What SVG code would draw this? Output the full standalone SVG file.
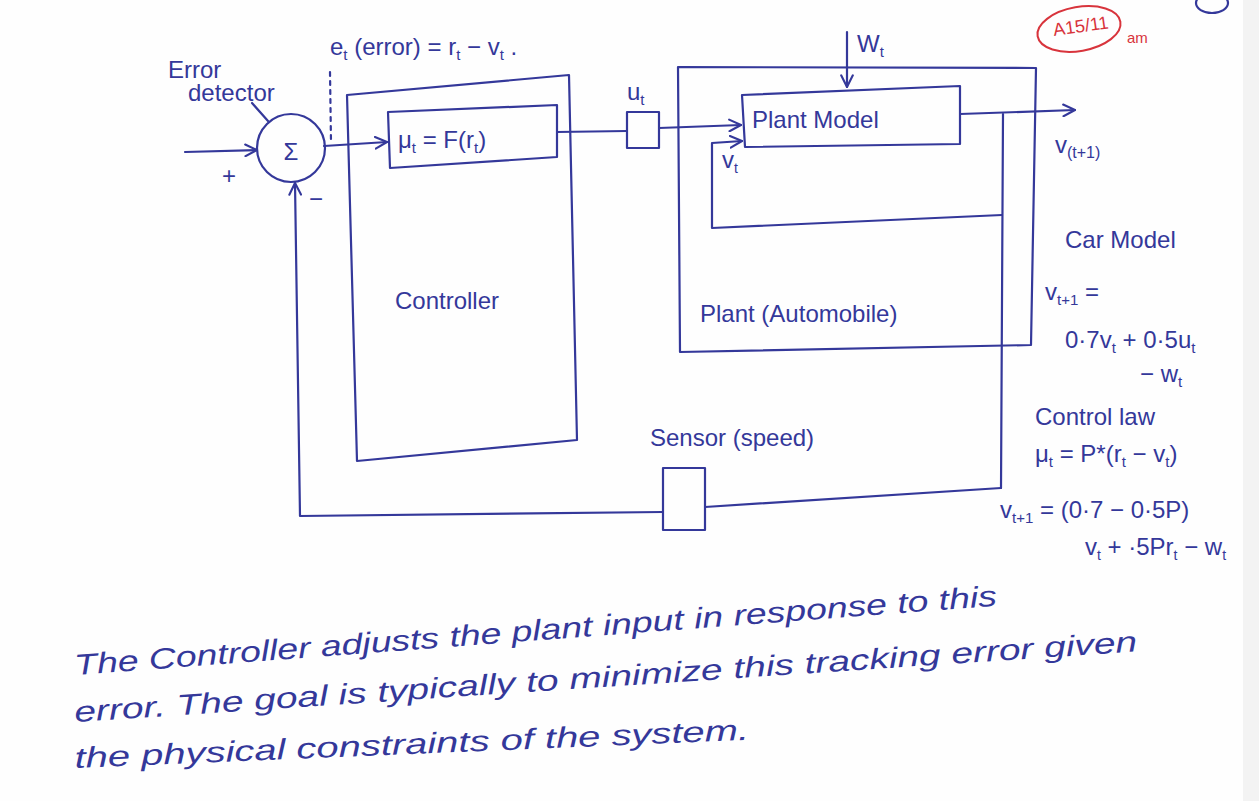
<svg xmlns="http://www.w3.org/2000/svg" width="1259" height="801" viewBox="0 0 1259 801">
<style>
.ink{stroke:#34389a;fill:none;stroke-width:2.2;stroke-linecap:round;stroke-linejoin:round}
.t{font-family:"Liberation Sans",Arial,sans-serif;fill:#34389a;font-size:24px}
.h{font-family:"Liberation Sans",Arial,sans-serif;font-style:italic;fill:#34389a;font-size:29px}
.red{stroke:#d8343c;fill:none;stroke-width:2}
.rt{font-family:"Liberation Sans",Arial,sans-serif;fill:#d8343c}
</style>
<defs>
<marker id="ah" viewBox="0 0 12 12" refX="11" refY="6" markerWidth="14" markerHeight="14" markerUnits="userSpaceOnUse" orient="auto">
<path d="M1,1 L11,6 L1,11" fill="none" stroke="#34389a" stroke-width="1.8" stroke-linecap="round" stroke-linejoin="round"/>
</marker>
</defs>
<rect width="1259" height="801" fill="#fefefe"/>
<rect x="1243" y="0" width="16" height="801" fill="#f3f3f3"/>

<g id="stamp">
<ellipse cx="1079" cy="29" rx="42" ry="22" transform="rotate(-10 1079 29)" class="red"/>
<text class="rt" x="1054" y="36" font-size="18" transform="rotate(-8 1054 36)">A15/11</text>
<text class="rt" x="1127" y="43" font-size="15">am</text>
<ellipse cx="1212" cy="3" rx="16" ry="10" class="ink"/>
</g>

<g id="connectors">
<path class="ink" d="M185,152 L257,150" marker-end="url(#ah)"/>
<path class="ink" d="M324,146 L387,142" marker-end="url(#ah)"/>
<path class="ink" d="M557,132 L627,131"/>
<path class="ink" d="M659,128 L741,125" marker-end="url(#ah)"/>
<path class="ink" d="M847,32 L847,87" marker-end="url(#ah)"/>
<path class="ink" d="M960,114 L1075,110" marker-end="url(#ah)"/>
<path class="ink" d="M1003,114 L1001,488"/>
<path class="ink" d="M1002,215 L712,228 L712,143 L742,141" marker-end="url(#ah)"/>
<path class="ink" d="M1001,488 L705,507"/>
<path class="ink" d="M663,512 L300,516 L295,183" marker-end="url(#ah)"/>
<path class="ink" d="M330,72 L331,142" stroke-dasharray="4 5"/>
<path class="ink" d="M252,103 L268,121"/>
</g>

<g id="error-labels">
<text class="t" x="168" y="78" font-size="27">Error</text>
<text class="t" x="188" y="101" font-size="23">detector</text>
<text class="t" x="330" y="55" font-size="23">e<tspan dy="5" font-size="15">t</tspan><tspan dy="-5"> (error) = r</tspan><tspan dy="5" font-size="15">t</tspan><tspan dy="-5"> − v</tspan><tspan dy="5" font-size="15">t</tspan><tspan dy="-5"> .</tspan></text>
<text class="t" x="222" y="184" font-size="28">+</text>
<text class="t" x="309" y="207" font-size="28">−</text>
</g>

<g id="sum">
<circle cx="291" cy="148" r="34" class="ink"/>
<text class="t" x="291" y="160" font-size="34" text-anchor="middle">Σ</text>
</g>

<g id="controller">
<path class="ink" d="M347,95 L569,75 L577,440 L357,461 Z"/>
<text class="t" x="395" y="309" font-size="26">Controller</text>
</g>

<g id="control-function">
<path class="ink" d="M388,112 L557,105 L557,157 L390,168 Z"/>
<text class="t" x="398" y="148">μ<tspan dy="5" font-size="15">t</tspan><tspan dy="-5"> = F(r</tspan><tspan dy="5" font-size="15">t</tspan><tspan dy="-5">)</tspan></text>
</g>

<g id="actuator">
<path class="ink" d="M627,112 L659,112 L659,148 L627,148 Z"/>
<text class="t" x="627" y="100">u<tspan dy="5" font-size="15">t</tspan></text>
</g>

<g id="plant">
<path class="ink" d="M678,67 L1036,68 L1031,345 L680,352 Z"/>
<text class="t" x="700" y="322" font-size="26">Plant (Automobile)</text>
</g>

<g id="plant-model">
<path class="ink" d="M742,95 L960,86 L960,144 L745,147 Z"/>
<text class="t" x="752" y="128" font-size="25">Plant Model</text>
<text class="t" x="857" y="52">W<tspan dy="5" font-size="15">t</tspan></text>
<text class="t" x="722" y="168" font-size="21">v<tspan dy="5" font-size="14">t</tspan></text>
</g>

<g id="output-label">
<text class="t" x="1055" y="153">v<tspan dy="5" font-size="16">(t+1)</tspan></text>
</g>

<g id="sensor">
<path class="ink" d="M663,468 L705,468 L705,530 L663,530 Z"/>
<text class="t" x="650" y="446" font-size="25">Sensor (speed)</text>
</g>

<g id="equations">
<text class="t" x="1065" y="248">Car Model</text>
<text class="t" x="1045" y="300">v<tspan dy="5" font-size="15">t+1</tspan><tspan dy="-5"> =</tspan></text>
<text class="t" x="1065" y="348">0·7v<tspan dy="5" font-size="15">t</tspan><tspan dy="-5"> + 0·5u</tspan><tspan dy="5" font-size="15">t</tspan></text>
<text class="t" x="1140" y="382">− w<tspan dy="5" font-size="15">t</tspan></text>
<text class="t" x="1035" y="425">Control law</text>
<text class="t" x="1035" y="462">μ<tspan dy="5" font-size="15">t</tspan><tspan dy="-5"> = P*(r</tspan><tspan dy="5" font-size="15">t</tspan><tspan dy="-5"> − v</tspan><tspan dy="5" font-size="15">t</tspan><tspan dy="-5">)</tspan></text>
<text class="t" x="1000" y="518">v<tspan dy="5" font-size="15">t+1</tspan><tspan dy="-5"> = (0·7 − 0·5P)</tspan></text>
<text class="t" x="1085" y="555" font-size="22">v<tspan dy="5" font-size="14">t</tspan><tspan dy="-5"> + ·5Pr</tspan><tspan dy="5" font-size="14">t</tspan><tspan dy="-5"> − w</tspan><tspan dy="5" font-size="14">t</tspan></text>
</g>

<g id="notes">
<text class="h" x="75" y="675" transform="rotate(-4.3 75 675)" textLength="925" lengthAdjust="spacingAndGlyphs">The Controller adjusts the plant input in response to this</text>
<text class="h" x="75" y="722" transform="rotate(-3.8 75 722)" textLength="1065" lengthAdjust="spacingAndGlyphs">error. The goal is typically to minimize this tracking error given</text>
<text class="h" x="75" y="768" transform="rotate(-2.4 75 768)" textLength="675" lengthAdjust="spacingAndGlyphs">the physical constraints of the system.</text>
</g>
</svg>
